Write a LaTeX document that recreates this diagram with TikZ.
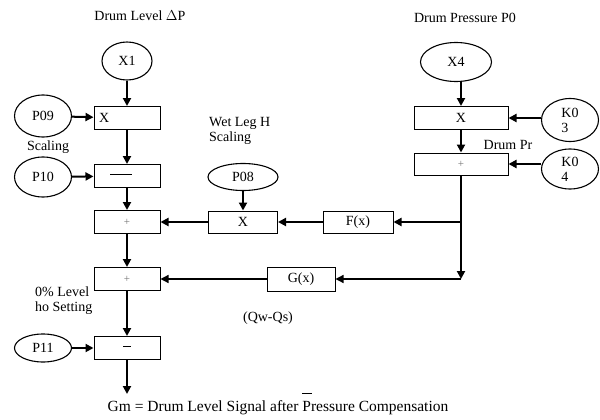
\documentclass[tikz,border=0pt]{standalone}
\usepackage{fontspec}
\setmainfont{Liberation Serif}
\usetikzlibrary{arrows.meta}
\usetikzlibrary{shapes.geometric}

\begin{document}
\begin{tikzpicture}[x=1pt,y=-1pt,
        font=\fontsize{14}{15}\selectfont,
        blk/.style={draw,line width=1pt,minimum height=23pt,inner sep=0pt},
        src/.style={draw,ellipse,line width=1.1pt,inner sep=0pt},
        sig/.style={line width=2pt,-{Triangle[length=8pt,width=8pt]}},
        thinsig/.style={line width=1.3pt,-{Triangle[length=8pt,width=8pt]}}]
        \newcommand{\plussign}{\textcolor{black!55}{\fontsize{11}{12}\selectfont+}}
        \useasboundingbox (0,0) rectangle (600,420);

        % left chain
        \node (lvl) at (140,16) {Drum Level $\Delta$P};
        \node[src,minimum width=50pt,minimum height=38pt] (x1) at (127,61) {X1};
        \node[blk,minimum width=66pt,text width=56pt,align=left] (mula) at (127,118) {\raisebox{-4pt}{X}};
        \node[blk,minimum width=66pt] (suba) at (127,176) {\hspace*{-12pt}\rule[3pt]{22pt}{1.1pt}};
        \node[blk,minimum width=66pt] (adda) at (127,222) {\plussign};
        \node[blk,minimum width=66pt] (addb) at (127,279) {\plussign};
        \node[blk,minimum width=66pt] (subb) at (127,348) {\rule[3pt]{8pt}{1.1pt}};
        \coordinate (gmout) at (127,394);

        \node[src,minimum width=57pt,minimum height=42pt] (p09) at (43,116) {P09};
        \node (scl) at (48,147) {Scaling};
        \node[src,minimum width=57pt,minimum height=40pt] (p10) at (43,177) {P10};
        \node[align=left,anchor=north west,inner sep=0pt] (zero) at (35,287) {0\% Level\\ho Setting};
        \node[src,minimum width=57pt,minimum height=28pt] (p11) at (43,348) {P11};

        % wet leg
        \node[align=left,anchor=north west,inner sep=0pt] (wet) at (209,117) {Wet Leg H\\Scaling};
        \node[src,minimum width=70pt,minimum height=27pt] (p08) at (243,177) {P08};
        \node[blk,minimum width=69pt,minimum height=22pt] (mulb) at (243,222) {X};
        \node[blk,minimum width=70pt,minimum height=22pt] (fx) at (358,222) {F(x)};
        \node[blk,minimum width=68pt,minimum height=24pt] (gx) at (301,279) {G(x)};
        \node (qw) at (268,318) {(Qw-Qs)};

        % right chain
        \node (prs) at (465,18) {Drum Pressure P0};
        \node[src,minimum width=71pt,minimum height=39pt] (x4) at (456,62) {X4};
        \node[blk,minimum width=94pt] (mulc) at (461,118) {\raisebox{-5pt}{X}};
        \node[blk,minimum width=94pt,minimum height=22pt] (addc) at (461,164) {\plussign};
        \node[src,minimum width=57pt,minimum height=43pt,align=left] (k03) at (570,120) {K0\\3};
        \node[src,minimum width=57pt,minimum height=40pt,align=left] (k04) at (570,169) {K0\\4};
        \node (dpr) at (508,145) {Drum Pr};
        \coordinate (split) at (461,222);
        \coordinate (corner) at (461,279);

        % connectors
        \draw[sig] (x1) -- (mula);
        \draw[sig] (mula) -- (suba);
        \draw[sig] (suba) -- (adda);
        \draw[sig] (adda) -- (addb);
        \draw[sig] (addb) -- (subb);
        \draw[sig] (subb) -- (gmout);
        \draw[sig] (p09) -- (mula);
        \draw[sig] (p10) -- (suba);
        \draw[sig] (p11) -- (subb);
        \draw[sig] (p08) -- (mulb);
        \draw[sig] (mulb) -- (adda);
        \draw[sig] (fx) -- (mulb);
        \draw[sig] (split) -- (fx);
        \draw[sig] (x4.south -| mulc) -- (mulc);
        \draw[sig] (mulc) -- (addc);
        \draw[sig] (k03.west |- mulc) -- (mulc);
        \draw[sig] (k04.west |- addc) -- (addc);
        \draw[sig] (addc) -- (corner);
        \draw[thinsig] (corner) -- (gx);
        \draw[thinsig] (gx) -- (addb);

        % caption
        \node[font=\fontsize{15.5}{17}\selectfont] (gm) at (278,408) {Gm = Drum Level Signal after Pressure Compensation};
        \draw[line width=0.8pt] (302,393) -- (312,393);
\end{tikzpicture}
\end{document}
